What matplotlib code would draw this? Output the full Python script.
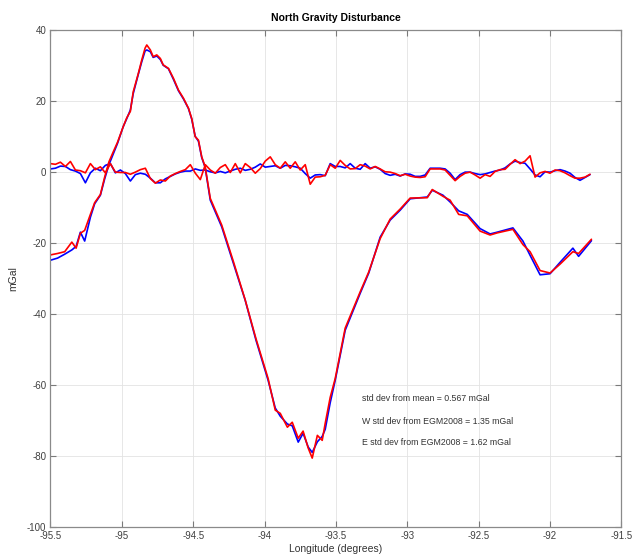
import numpy as np
import matplotlib
matplotlib.use('Agg')
from matplotlib import pyplot as plt

# 重力擾乱（北成分）: 本体の曲線
lon_main = [-95.50, -95.45, -95.40, -95.35, -95.32, -95.29, -95.26, -95.22, -95.19, -95.15,
            -95.12, -95.09, -95.06, -95.03, -94.99, -94.965, -94.94, -94.92, -94.884, -94.86,
            -94.837, -94.825, -94.80, -94.78, -94.755, -94.73, -94.71, -94.673, -94.638, -94.603,
            -94.568, -94.533, -94.51, -94.486, -94.463, -94.44, -94.416, -94.38, -94.30, -94.218,
            -94.136, -94.06, -93.975, -93.925, -93.89, -93.84, -93.806, -93.764, -93.73, -93.694,
            -93.666, -93.63, -93.596, -93.575, -93.54, -93.505, -93.435, -93.33, -93.27, -93.19,
            -93.12, -93.05, -92.98, -92.86, -92.825, -92.75, -92.70, -92.64, -92.58, -92.49,
            -92.42, -92.37, -92.26, -92.19, -92.14, -92.07, -92.00, -91.93, -91.84, -91.80,
            -91.71]
west_main = [-24.9, -24.3, -23.2, -22.0, -21.0, -17.0, -19.5, -12.8, -9.0, -6.6,
             -2.0, 2.0, 5.0, 8.0, 12.7, 15.0, 17.4, 22.0, 27.5, 31.0,
             34.0, 34.3, 33.8, 32.2, 32.6, 31.6, 30.0, 29.0, 26.0, 22.8,
             20.5, 17.8, 14.8, 10.0, 8.6, 4.0, 1.2, -8.0, -15.5, -25.8,
             -36.1, -47.4, -58.7, -66.5, -68.8, -71.0, -71.5, -76.1, -73.6, -77.5,
             -79.0, -76.0, -74.5, -72.5, -65.0, -58.7, -44.6, -34.2, -28.5, -18.4,
             -13.6, -10.8, -7.6, -7.1, -5.2, -6.6, -8.5, -11.0, -12.0, -16.0,
             -17.5, -17.0, -15.8, -19.5, -23.5, -29.0, -28.7, -25.5, -21.5, -23.8,
             -19.4]
east_main = [-23.4, -23.0, -22.5, -19.8, -21.5, -17.3, -16.5, -12.0, -8.7, -6.4,
             -1.5, 2.8, 5.6, 8.3, 12.7, 15.2, 17.0, 22.5, 27.7, 31.5,
             34.8, 35.7, 34.3, 32.4, 32.9, 31.9, 30.1, 29.1, 26.3, 23.0,
             20.7, 17.9, 15.0, 9.9, 8.9, 4.2, 1.4, -7.5, -15.0, -25.3,
             -36.0, -47.0, -58.2, -67.1, -68.0, -71.9, -70.5, -75.0, -73.0, -77.8,
             -80.6, -74.2, -75.6, -70.8, -63.5, -58.2, -44.0, -33.8, -28.2, -18.8,
             -13.3, -10.5, -7.4, -7.3, -5.0, -6.9, -8.0, -12.0, -12.4, -16.7,
             -17.8, -17.2, -16.2, -20.5, -22.5, -27.8, -28.5, -26.0, -22.5, -23.0,
             -19.0]

# 平均からの差（0付近の曲線）
lon_diff = -95.5 + 0.035 * np.arange(109)
west_diff = [0.8, 1.0, 1.6, 1.5, 0.6, 0.2, -0.5, -3.1, -0.3, 1.0,
             0.3, 1.8, 2.3, -0.3, 0.5, -0.5, -2.6, -0.8, -0.4, -0.7,
             -1.8, -3.1, -3.1, -2.0, -1.3, -0.6,
             -0.1, 0.2, 0.2, 0.8, 0.4, 0.5, 0.0, -0.3, 0.1, -0.3,
             0.2, 0.7, 1.0, 0.4, 0.7, 1.3, 2.2, 1.3, 1.5, 1.7,
             1.0, 1.8, 1.7, 1.4, 1.0, -0.5, -1.8, -0.9,
             -0.8, -1.1, 2.3, 1.5, 1.5, 1.1, 2.3, 1.0, 0.7, 2.3,
             1.0, 1.4, 0.7, -0.5, -1.0, -0.7, -1.2, -0.6, -0.7, -1.3,
             -1.3, -0.9, 1.0, 1.0, 1.0, 0.8, -0.4, -2.2,
             -0.8, -0.1, -0.1, -0.5, -0.8, -0.6, -0.2, 0.2, 0.5, 1.1,
             2.2, 3.0, 2.6, 2.4, 0.8, -0.9, -1.4, 0.0, -0.1, 0.3,
             0.6, 0.2, -0.4, -1.6, -2.4, -1.6, -0.8]
east_diff = [2.3, 2.1, 2.7, 1.5, 2.9, 0.5, 0.3, -0.3, 2.3, 0.6,
             1.4, -0.3, 2.3, -0.1, -0.2, -0.2, -0.7, -0.1, 0.6, 1.0,
             -1.9, -3.2, -2.3, -2.6, -1.2, -0.5,
             0.1, 0.6, 2.0, -0.4, -2.2, 2.0, 0.5, -0.4, 1.2, 2.0,
             -0.2, 2.3, -0.3, 2.3, 1.2, -0.4, 0.9, 3.0, 4.2, 2.0,
             1.0, 2.8, 1.0, 2.8, 0.5, 2.0, -3.5, -1.5,
             -1.4, -1.0, 2.0, 1.0, 3.2, 1.8, 0.8, 0.9, 2.0, 1.6,
             0.8, 1.5, 0.8, 0.0, -0.1, -0.5, -1.1, -0.7, -1.2, -1.5,
             -1.6, -1.4, 0.8, 0.8, 0.8, 0.5, -1.0, -2.5,
             -1.3, -0.4, -0.1, -0.9, -1.8, -0.8, -1.3, 0.1, 0.6, 0.7,
             2.1, 3.4, 2.3, 3.0, 4.5, -1.5, -0.3, 0.1, -0.4, 0.5,
             0.3, -0.3, -1.1, -1.8, -1.8, -1.5, -0.7]

notes = ['std dev from mean = 0.567 mGal',
         'W std dev from EGM2008 = 1.35 mGal',
         'E std dev from EGM2008 = 1.62 mGal']

plt.rcParams['font.family'] = ['Liberation Sans', 'DejaVu Sans']
plt.rcParams['axes.unicode_minus'] = False

fig = plt.figure(figsize=(6.39, 5.59), dpi=100)
ax = fig.add_axes([0.0789, 0.0572, 0.8936, 0.8897])

line_kw = dict(lw=1.2, solid_joinstyle='round', solid_capstyle='round')
ax.plot(lon_main, west_main, color='#0000ff', **line_kw)
ax.plot(lon_diff, west_diff, color='#0000ff', **line_kw)
ax.plot(lon_main, east_main, color='#ff0000', **line_kw)
ax.plot(lon_diff, east_diff, color='#ff0000', **line_kw)

ax.set_xlim(-95.5, -91.5)
ax.set_ylim(-100, 40)
ax.set_xticks(np.arange(-95.5, -91.4, 0.5))
ax.set_yticks(np.arange(-100, 41, 20))
ax.set_xticklabels(['-95.5', '-95', '-94.5', '-94', '-93.5', '-93', '-92.5', '-92', '-91.5'])
ax.grid(True, color='#e3e3e3', lw=0.6)
ax.set_axisbelow(True)
ax.tick_params(direction='in', length=4, width=0.8, top=True, right=True,
               labelsize=7, colors='#7a7a7a', labelcolor='#404040', pad=3)
for s in ax.spines.values():
    s.set_color('#8a8a8a')
    s.set_linewidth(0.9)

ax.set_title('North Gravity Disturbance', fontsize=7.5, fontweight='bold', pad=6)
ax.set_xlabel('Longitude (degrees)', fontsize=7.5, color='#333333', labelpad=2)
ax.set_ylabel('mGal', fontsize=7.5, color='#333333', labelpad=6)

for y, t in zip([-63.7, -70.2, -76.1], notes):
    ax.text(-93.32, y, t, fontsize=6.3, color='#333333', va='center')

fig.savefig('out.png', dpi=100)
